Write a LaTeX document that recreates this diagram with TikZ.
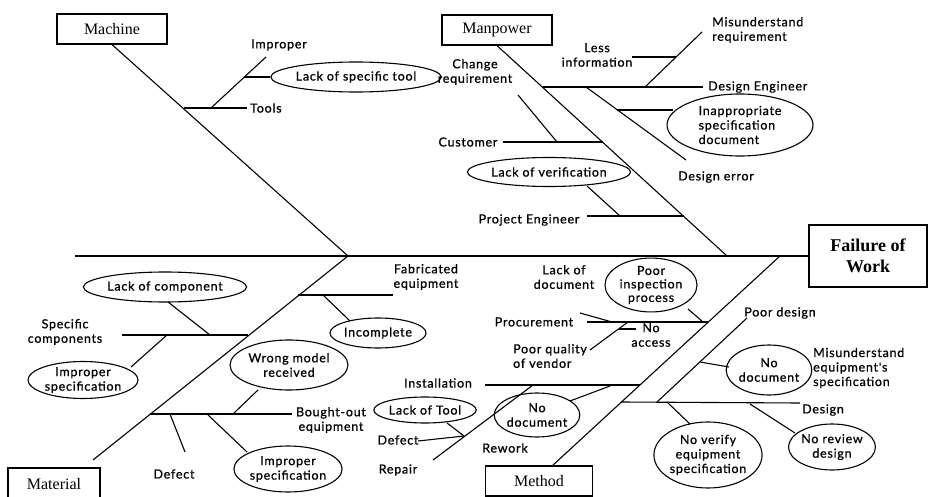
\documentclass[tikz,border=0pt]{standalone}
\usepackage{fontspec}
\setmainfont{Liberation Serif}
\newfontfamily\lab[LetterSpace=6,FakeBold=0.8]{Lato}
\usetikzlibrary{shapes.geometric}
\begin{document}
\begin{tikzpicture}[x=1pt,y=-1pt,
  bone/.style={line width=1.1pt},
  spine/.style={line width=1.7pt},
  cat/.style={draw,line width=1.2pt,inner sep=0pt,font=\fontsize{16}{18}\selectfont},
  ell/.style={draw,ellipse,line width=1.1pt,inner sep=0pt,align=center,font=\lab\fontsize{12.5}{14.5}\selectfont},
  lbl/.style={inner sep=0pt,align=center,font=\lab\fontsize{12.5}{14.5}\selectfont}]
\useasboundingbox (0,0) rectangle (929,497);
% category boxes
\node[cat,minimum width=110,minimum height=30] (mach) at (112,29) {Machine};
\node[cat,minimum width=110,minimum height=30] (mp) at (497,30) {Manpower};
\node[cat,minimum width=92,minimum height=32] (mat) at (54,484) {Material};
\node[cat,minimum width=107,minimum height=30] (meth) at (539,481) {Method};
\node[cat,minimum width=118,minimum height=62,align=center,font=\bfseries\fontsize{18}{21}\selectfont] (fail) at (868,256) {Failure of\\Work};
% spine and bones
\coordinate (s0) at (75,256);
\draw[spine] (s0) -- (fail.west);
\coordinate (jl) at (348,256);
\coordinate (jr) at (727,256);
\coordinate (jm) at (780,256);
\coordinate (matb) at (93,460);
\coordinate (mtb) at (552,466);
\draw[bone] (mach.south) -- (jl);
\draw[bone] (matb) -- (jl);
\draw[bone] (mp.south) -- (jr);
\draw[bone] (mtb) -- (jm);
% ---------- Machine ----------
\coordinate (mt1) at (184,108); \coordinate (mt2) at (247,108);
\draw[bone] (mt1) -- (mt2);
\node[lbl,anchor=west] (tools) at (250,108) {Tools};
\coordinate (mi1) at (211,108); \coordinate (mi2) at (266,57);
\draw[bone] (mi1) -- (mi2);
\node[lbl] (impr) at (279,45) {Improper};
\node[ell,minimum width=143,minimum height=30] (lst) at (356,77) {Lack of specific tool};
\coordinate (mi3) at (244,77);
\draw[bone] (mi3) -- (lst.west);
% ---------- Manpower ----------
\node[lbl] (less) at (597,55) {Less\\information};
\coordinate (li1) at (632,57); \coordinate (li2) at (676,57);
\draw[bone] (li1) -- (li2);
\node[lbl,align=left,anchor=west] (mreq) at (712,30) {Misunderstand\\requirement};
\coordinate (mr1) at (702,32); \coordinate (mr2) at (645,87);
\draw[bone] (mr1) -- (mr2);
\coordinate (de1) at (543,87); \coordinate (de2) at (703,87);
\draw[bone] (de1) -- (de2);
\node[lbl,anchor=west] (deng) at (708,87) {Design Engineer};
\coordinate (der1) at (586,87); \coordinate (der2) at (686,160);
\draw[bone] (der1) -- (der2);
\node[lbl] (derr) at (716,177) {Design error};
\node[ell,align=left,minimum width=146,minimum height=62] (inap) at (740,125) {Inappropriate\\specification\\document};
\coordinate (ia1) at (617,110); \coordinate (ia2) at (673,110);
\draw[bone] (ia1) -- (ia2);
\node[lbl] (chreq) at (475,72) {Change\\requirement};
\coordinate (cr1) at (518,95); \coordinate (cr2) at (557,142);
\draw[bone] (cr1) -- (cr2);
\coordinate (cu1) at (503,142); \coordinate (cu2) at (603,142);
\draw[bone] (cu1) -- (cu2);
\node[lbl] (cust) at (468,142) {Customer};
\node[ell,minimum width=147,minimum height=29] (lov) at (549,172) {Lack of verification};
\coordinate (pv1) at (587,186); \coordinate (pv2) at (620,216);
\draw[bone] (pv1) -- (pv2);
\coordinate (pe1) at (587,216); \coordinate (pe2) at (684,216);
\draw[bone] (pe1) -- (pe2);
\node[lbl] (peng) at (529,220) {Project Engineer};
% ---------- Material ----------
\node[ell,minimum width=146,minimum height=30] (loc) at (165,287) {Lack of component};
\coordinate (lc1) at (168,302); \coordinate (lc2) at (210,335);
\draw[bone] (lc1) -- (lc2);
\coordinate (sc1) at (122,335); \coordinate (sc2) at (248,335);
\draw[bone] (sc1) -- (sc2);
\node[lbl] (spec) at (65,332) {Specific\\components};
\coordinate (is1) at (167,335); \coordinate (is2) at (131,367);
\draw[bone] (is1) -- (is2);
\node[ell,minimum width=110,minimum height=37] (ips) at (83,380) {Improper\\specification};
\node[ell,minimum width=118,minimum height=50] (wmr) at (289,365) {Wrong model\\received};
\coordinate (bo1) at (150,414); \coordinate (bo2) at (292,414);
\draw[bone] (bo1) -- (bo2);
\node[lbl] (bout) at (331,420) {Bought-out\\equipment};
\coordinate (wm1) at (258,390); \coordinate (wm2) at (233,414);
\draw[bone] (wm1) -- (wm2);
\coordinate (fe1) at (298,295); \coordinate (fe2) at (393,295);
\draw[bone] (fe1) -- (fe2);
\node[lbl] (fab) at (426,277) {Fabricated\\equipment};
\node[ell,minimum width=78,minimum height=30] (inc) at (378,333) {Incomplete};
\coordinate (ic1) at (323,295); \coordinate (ic2) at (350,321);
\draw[bone] (ic1) -- (ic2);
\coordinate (df1) at (170,414); \coordinate (df2) at (185,452);
\draw[bone] (df1) -- (df2);
\node[lbl] (defm) at (174,474) {Defect};
\node[ell,minimum width=96,minimum height=46] (ips2) at (288,469) {Improper\\specification};
\coordinate (iq1) at (207,414); \coordinate (iq2) at (247,452);
\draw[bone] (iq1) -- (iq2);
% ---------- Method ----------
\coordinate (pr1) at (587,322); \coordinate (pr2) at (708,322);
\draw[bone] (pr1) -- (pr2);
\node[lbl] (proc) at (534,322) {Procurement};
\node[lbl] (lod) at (564,277) {Lack of\\document};
\coordinate (ld1) at (580,313); \coordinate (ld2) at (612,322);
\draw[bone] (ld1) -- (ld2);
\node[ell,minimum width=92,minimum height=46,font=\lab\fontsize{12.5}{13.5}\selectfont] (pip) at (651,285) {Poor\\inspection\\process};
\coordinate (pi1) at (688,309); \coordinate (pi2) at (703,322);
\draw[bone] (pi1) -- (pi2);
\node[lbl,align=left] (pqv) at (550,356) {Poor quality\\of vendor};
\coordinate (pq1) at (590,350); \coordinate (pq2) at (628,322);
\draw[bone] (pq1) -- (pq2);
\coordinate (na1) at (619,329); \coordinate (na2) at (636,329);
\draw[bone] (na1) -- (na2);
\node[lbl] (nacc) at (651,335) {No\\access};
\coordinate (il1) at (485,385); \coordinate (il2) at (640,385);
\draw[bone] (il1) -- (il2);
\node[lbl] (inst) at (438,383) {Installation};
\coordinate (rp1) at (433,460); \coordinate (rp2) at (533,385);
\draw[bone] (rp1) -- (rp2);
\node[lbl] (rep) at (398,470) {Repair};
\coordinate (dt1) at (418,441); \coordinate (dt2) at (464,436);
\draw[bone] (dt1) -- (dt2);
\node[lbl] (defw) at (398,440) {Defect};
\node[ell,minimum width=100,minimum height=26] (lot) at (425,410) {Lack of Tool};
\coordinate (lt1) at (447,423);
\draw[bone] (lt1) -- (dt2);
\node[ell,minimum width=80,minimum height=44] (ndl) at (537,415) {No\\document};
\coordinate (nd1) at (570,401); \coordinate (nd2) at (610,386);
\draw[bone] (nd1) -- (nd2);
\node[lbl] (rew) at (505,448) {Rework};
\coordinate (dg1) at (621,402); \coordinate (dg2) at (800,403);
\draw[bone] (dg1) -- (dg2);
\node[lbl] (des) at (823,410) {Design};
\coordinate (pd1) at (747,318); \coordinate (pd2) at (657,402);
\draw[bone] (pd1) -- (pd2);
\node[lbl] (pdes) at (780,313) {Poor design};
\node[ell,minimum width=82,minimum height=50] (ndr) at (769,370) {No\\document};
\coordinate (nr1) at (729,367); \coordinate (nr2) at (700,362);
\draw[bone] (nr1) -- (nr2);
\node[lbl,align=left,anchor=west] (mes) at (813,368) {Misunderstand\\equipment's\\specification};
\node[ell,minimum width=86,minimum height=66] (nve) at (708,455) {No verify\\equipment\\specification};
\coordinate (nv1) at (667,402); \coordinate (nv2) at (690,424);
\draw[bone] (nv1) -- (nv2);
\node[ell,minimum width=82,minimum height=46] (nrd) at (832,447) {No review\\design};
\coordinate (rv1) at (750,404); \coordinate (rv2) at (795,433);
\draw[bone] (rv1) -- (rv2);
\end{tikzpicture}
\end{document}
